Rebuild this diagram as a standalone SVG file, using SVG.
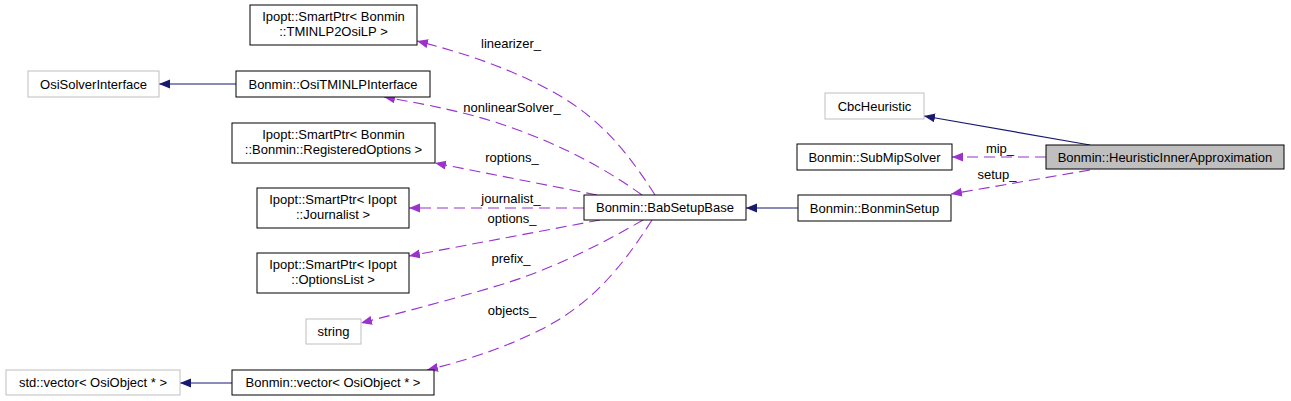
<svg xmlns="http://www.w3.org/2000/svg" width="1291" height="401" viewBox="0 0 1291 401">
<style>
.n rect{fill:#fff;stroke:#000;stroke-width:1}
.n.g rect{stroke:#bfbfbf}
.n.cur rect{fill:#bfbfbf}
text{font-family:"Liberation Sans",Arial,sans-serif;font-size:13px;fill:#000}
.n text{text-anchor:middle}
.e text{text-anchor:middle}
.inh{fill:none;stroke:#191970;stroke-width:1.1;marker-end:url(#an)}
.use{fill:none;stroke:#9a32cd;stroke-width:1.1;stroke-dasharray:11,6;marker-end:url(#ap)}
</style>
<defs>
<marker id="an" markerUnits="userSpaceOnUse" markerWidth="12" markerHeight="10" refX="11" refY="4.5" orient="auto"><path d="M0,0 L11,4.5 L0,9 z" fill="#191970"/></marker>
<marker id="ap" markerUnits="userSpaceOnUse" markerWidth="12" markerHeight="10" refX="11" refY="4.5" orient="auto"><path d="M0,0 L11,4.5 L0,9 z" fill="#9a32cd"/></marker>
</defs>
<rect width="1291" height="401" fill="#fff"/>
<g id="edges" class="e">
<path class="inh" d="M1090,145 L924,116"/>
<path class="use" d="M1046,157 L952,157"/>
<text x="1000" y="153">mip_</text>
<path class="use" d="M1090,170 L951,194"/>
<text x="997" y="179">setup_</text>
<path class="inh" d="M798,208 L746,208"/>
<path class="inh" d="M236,84 L159,84"/>
<path class="inh" d="M232,383 L180,383"/>
<path class="use" d="M655,195 C620,140 590,110 540,85 C500,65 460,52 417,41"/>
<text x="511" y="48">linearizer_</text>
<path class="use" d="M642,195 C600,165 560,145 510,127 C470,113 430,105 384,97"/>
<text x="512" y="112">nonlinearSolver_</text>
<path class="use" d="M597,195 L435,163"/>
<text x="512" y="162">roptions_</text>
<path class="use" d="M584,208 L409,208"/>
<text x="511" y="203">journalist_</text>
<path class="use" d="M600,220 L409,256"/>
<text x="512" y="223">options_</text>
<path class="use" d="M643,220 C600,245 550,270 500,285 C450,300 400,313 361,323"/>
<text x="511" y="263">prefix_</text>
<path class="use" d="M652,220 C620,270 590,305 540,330 C500,350 460,362 427,370"/>
<text x="512" y="315">objects_</text>
</g>
<g id="HeuristicInnerApproximation" class="n cur"><rect x="1046" y="145" width="238" height="24"/><text x="1165" y="161.5">Bonmin::HeuristicInnerApproximation</text></g>
<g id="CbcHeuristic" class="n g"><rect x="825" y="93" width="99" height="26"/><text x="874.5" y="110.5">CbcHeuristic</text></g>
<g id="SubMipSolver" class="n"><rect x="797" y="144" width="155" height="26"/><text x="874.5" y="161.5">Bonmin::SubMipSolver</text></g>
<g id="BonminSetup" class="n"><rect x="798" y="195" width="153" height="26"/><text x="874.5" y="212.5">Bonmin::BonminSetup</text></g>
<g id="BabSetupBase" class="n"><rect x="584" y="195" width="162" height="25"/><text x="665" y="212">Bonmin::BabSetupBase</text></g>
<g id="SmartPtrTMINLP2OsiLP" class="n"><rect x="250" y="5" width="167" height="40"/><text x="333.5" y="21">Ipopt::SmartPtr&lt; Bonmin</text><text x="333.5" y="36">::TMINLP2OsiLP &gt;</text></g>
<g id="OsiSolverInterface" class="n g"><rect x="28" y="71" width="131" height="26"/><text x="93.5" y="88.5">OsiSolverInterface</text></g>
<g id="OsiTMINLPInterface" class="n"><rect x="236" y="71" width="194" height="26"/><text x="333" y="88.5">Bonmin::OsiTMINLPInterface</text></g>
<g id="SmartPtrRegisteredOptions" class="n"><rect x="232" y="123" width="203" height="40"/><text x="333.5" y="139">Ipopt::SmartPtr&lt; Bonmin</text><text x="333.5" y="154">::Bonmin::RegisteredOptions &gt;</text></g>
<g id="SmartPtrJournalist" class="n"><rect x="257" y="188" width="152" height="40"/><text x="333" y="204">Ipopt::SmartPtr&lt; Ipopt</text><text x="333" y="219">::Journalist &gt;</text></g>
<g id="SmartPtrOptionsList" class="n"><rect x="257" y="253" width="152" height="40"/><text x="333" y="269">Ipopt::SmartPtr&lt; Ipopt</text><text x="333" y="284">::OptionsList &gt;</text></g>
<g id="string" class="n g"><rect x="306" y="319" width="55" height="25"/><text x="333.5" y="336">string</text></g>
<g id="stdvector" class="n g"><rect x="6" y="370" width="174" height="25"/><text x="93" y="387">std::vector&lt; OsiObject * &gt;</text></g>
<g id="Bonminvector" class="n"><rect x="232" y="370" width="202" height="25"/><text x="333" y="387">Bonmin::vector&lt; OsiObject * &gt;</text></g>
</svg>
